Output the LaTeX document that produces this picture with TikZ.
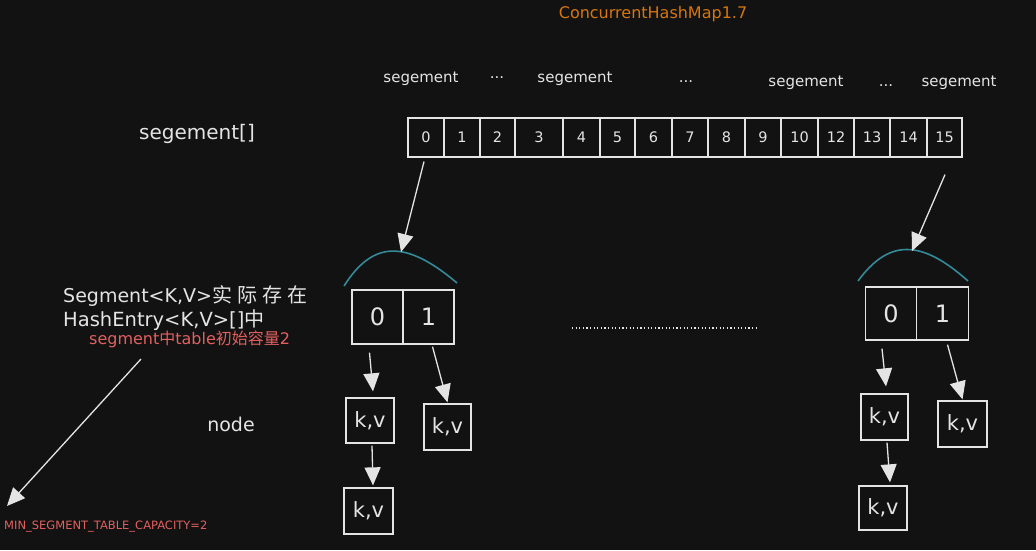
\documentclass[tikz,border=0pt]{standalone}
\usepackage{fontspec}
\setmainfont{DejaVu Sans}
\newfontfamily\cjk{Noto Sans CJK SC}
\usetikzlibrary{arrows.meta,calc}
\definecolor{bgc}{RGB}{18,18,18}
\definecolor{ink}{RGB}{228,228,228}
\definecolor{tealc}{RGB}{52,138,152}
\definecolor{orangec}{RGB}{214,118,14}
\definecolor{redc}{RGB}{226,96,96}
\tikzset{
  fs/.style={font=\fontsize{#1}{#1}\selectfont},
  lbl/.style={text=ink,inner sep=0pt},
  cellbox/.style={draw=ink,line width=1.2pt,rectangle,inner sep=0pt,minimum height=39pt,text=ink,fs=14.5},
  bucket/.style={draw=ink,line width=1.3pt,rectangle,inner sep=0pt,minimum width=51pt,minimum height=54pt,text=ink,fs=24},
  kvbox/.style={draw=ink,line width=1.3pt,rectangle,inner sep=0pt,minimum width=48pt,minimum height=45pt,text=ink,fs=21},
  arr/.style={draw=ink,line width=1.3pt,-{Triangle[width=16pt,length=18pt,fill=ink]}},
  hump/.style={draw=tealc,line width=1.6pt},
}
\begin{document}
\begin{tikzpicture}[x=1pt,y=-1pt]
\path[use as bounding box,fill=bgc] (0,0) rectangle (1036,550);

% title
\node[text=orangec,inner sep=0pt,fs=16] (title) at (653,14) {ConcurrentHashMap1.7};

% segment labels
\node[lbl,fs=15] (s1) at (421,79) {segement};
\node[lbl,fs=15] (d1) at (497,78) {...};
\node[lbl,fs=15] (s2) at (575,79) {segement};
\node[lbl,fs=15] (d2) at (686,82) {...};
\node[lbl,fs=15] (s3) at (806,83) {segement};
\node[lbl,fs=15] (d3) at (886,86) {...};
\node[lbl,fs=15] (s4) at (959,83) {segement};

\node[lbl,fs=20] (segarr) at (197,134) {segement[]};

% array cells
\foreach \n/\c/\w/\t in {c0/426/36/0,c1/462/36/1,c2/497.5/35/2,c3/539/48/3,c4/581.5/37/4,c5/617.5/35/5,c6/653.5/37/6,c7/690/36/7,c8/726.5/37/8,c9/763/36/9,c10/799.5/37/10,c12/836/36/12,c13/872/36/13,c14/908.5/37/14,c15/944.5/35/15}
  \node[cellbox,minimum width=\w pt] (\n) at (\c,137.5) {\t};

% humps
\coordinate (peakL) at (401,252);
\coordinate (peakR) at (912,251);
\draw[hump] (344,286) .. controls (372,242) and (404,238) .. (457,283);
\draw[hump] (858,281) .. controls (888,240) and (920,238) .. (968,281);

\draw[arr] ($(c0.south)+(-2,4)$) -- (peakL);
\draw[arr] ($(c15.south)+(0.5,17)$) -- (peakR);

% left buckets
\node[bucket] (b0) at (377.5,317) {0};
\node[bucket] (b1) at (428.5,317) {1};
\node[kvbox] (k1) at (370,420.5) {k,v};
\node[kvbox,minimum width=47pt,minimum height=46pt] (k2) at (447.5,427) {k,v};
\node[kvbox,minimum width=49pt,minimum height=46pt] (k3) at (368.5,511) {k,v};

\draw[arr] ($(b0.south)+(-8,8)$) -- ($(k1.north)+(3,-6)$);
\draw[arr] ($(b1.south)+(4,2)$) -- ($(k2.north)+(0,-1)$);
\draw[arr] ($(k1.south)+(2,2)$) -- ($(k3.north)+(4.5,-2)$);

% right buckets
\node[bucket,minimum height=53pt] (rb0) at (891,313.5) {0};
\node[bucket,minimum height=53pt,minimum width=52pt] (rb1) at (942.5,313.5) {1};
\node[kvbox,minimum width=47pt,minimum height=46pt] (rk1) at (884.5,417) {k,v};
\node[kvbox,minimum width=49pt,minimum height=46pt] (rk2) at (962.5,424) {k,v};
\node[kvbox,minimum width=48pt,minimum height=44pt] (rk3) at (883,508) {k,v};

\draw[arr] ($(rb0.south)+(-9,8)$) -- ($(rk1.north)+(1.5,-7)$);
\draw[arr] ($(rb1.south)+(5,4)$) -- ($(rk2.north)+(0,-1)$);
\draw[arr] ($(rk1.south)+(2.5,2)$) -- ($(rk3.north)+(7,-3)$);

% dotted separator
\coordinate (dotA) at (572,328);
\coordinate (dotB) at (758,328);
\draw[ink,line width=1.2pt,dash pattern=on 1.2pt off 2.4pt] (dotA) -- (dotB);

% node label
\node[lbl,fs=19] (nodelbl) at (231,424) {node};

% left notes
\node[lbl,fs=19,anchor=west] (t1) at (63,296) {Segment<K,V>{\cjk\fontsize{20}{20}\selectfont 实\hspace{5pt}际\hspace{5pt}存\hspace{5pt}在}};
\node[lbl,fs=19.5,anchor=west] (t2) at (63,320) {HashEntry<K,V>[]{\cjk\fontsize{20}{20}\selectfont 中}};
\node[text=redc,inner sep=0pt,fs=16,anchor=west] (t3) at (89,339) {segment{\cjk 中}table{\cjk 初始容量}2};

\coordinate (noteA) at (141,359);
\node[text=redc,inner sep=0pt,fs=11.5,anchor=west] (minlbl) at (4,527) {MIN\_SEGMENT\_TABLE\_CAPACITY=2};
\coordinate (noteB) at (7,506);
\draw[arr] (noteA) -- (noteB);
\end{tikzpicture}
\end{document}
